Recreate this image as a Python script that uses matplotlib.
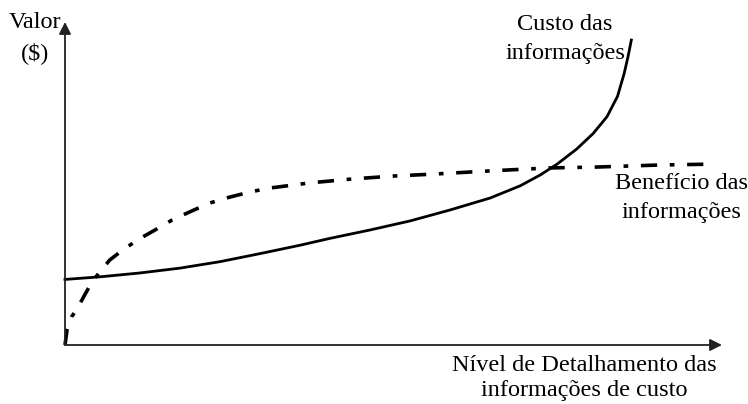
import matplotlib.pyplot as plt

# curve readings, x = detail level, y = value (0-100 on both axes)
custo_x = [0, 5.3, 11.4, 17.5, 23.6, 29.7, 35.8, 40.3, 46.4, 52.5, 58.6, 64.7, 69.3, 72.3,
           74.9, 77.9, 80.4, 82.5, 84.1, 85.1, 85.7, 86.2]
custo_y = [20.3, 21.1, 22.3, 23.8, 25.8, 28.3, 30.9, 33.0, 35.6, 38.4, 41.8, 45.5, 49.3, 52.6,
           56.0, 60.7, 65.5, 70.7, 77.0, 84.0, 89.3, 94.4]

beneficio_x = [0, 0.3, 1.0, 2.0, 3.0, 4.1, 5.3, 6.8, 8.4, 11.0, 13.7, 16.3, 19.3, 22.1, 25.1,
               28.2, 31.2, 37.3, 43.7, 49.9, 56.0, 64.7, 73.4, 81.0, 90.1, 98.5]
beneficio_y = [0, 4.6, 8.7, 11.8, 15.5, 19.5, 22.6, 26.3, 28.8, 32.5, 35.6, 38.7, 41.5, 44.0,
               45.8, 47.4, 48.6, 50.2, 51.4, 52.3, 52.9, 53.9, 54.8, 55.1, 55.7, 56.0]

plt.rcParams['font.family'] = ['Liberation Serif', 'DejaVu Serif']

fig = plt.figure(figsize=(7.48, 4.04), dpi=100)
ax = fig.add_axes([65 / 748, 59 / 404, 657 / 748, 323 / 404])
ax.set_xlim(0, 100)
ax.set_ylim(0, 100)
ax.axis('off')

ax.plot(custo_x, custo_y, color='black', lw=2.0, solid_joinstyle='round', clip_on=False)
ax.plot(beneficio_x, beneficio_y, color='black', lw=2.6, dashes=(4.5, 3.5, 1.3, 3.5),
        clip_on=False)

# axes with arrow heads
arrow = dict(arrowstyle='-|>', color='#222222', lw=1.3, mutation_scale=18, shrinkA=0, shrinkB=0)
ax.annotate('', xy=(0, 1), xytext=(0, 0), xycoords='axes fraction', arrowprops=arrow)
ax.annotate('', xy=(1, 0), xytext=(0, 0), xycoords='axes fraction', arrowprops=arrow)

fs = 17.5
ax.text(-4.6, 95.0, 'Valor\n($)', ha='center', va='center', fontsize=fs, linespacing=1.5)
ax.text(76.1, 94.6, 'Custo das\ninformações', ha='center', va='center', fontsize=fs, linespacing=1.5)
ax.text(93.8, 45.4, 'Benefício das\ninformações', ha='center', va='center', fontsize=fs,
        linespacing=1.5)
ax.text(79, -10.2, 'Nível de Detalhamento das\ninformações de custo', ha='center', va='center',
        fontsize=fs, linespacing=1.25)

fig.savefig('out.png', dpi=100)
